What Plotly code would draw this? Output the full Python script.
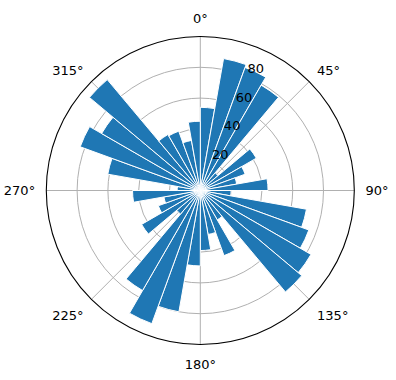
import plotly.graph_objects as go

# bin start angles (degrees, clockwise from north) and counts
bin_starts = list(range(0, 360, 10))
counts = [54, 87, 85, 79, 15, 42, 31, 24, 44,
          20, 70, 75, 83, 86, 22, 45, 29, 39,
          49, 80, 92, 75, 20, 44, 29, 24, 44,
          15, 61, 83, 74, 94, 42, 41, 33, 45]
bin_width = 10
angle_ticks = [0, 45, 90, 135, 180, 225, 270, 315]
angle_labels = [f"{a}°" for a in angle_ticks]
r_ticks = [20, 40, 60, 80]
r_label_angle = 22.5

centers = [s + bin_width / 2 for s in bin_starts]

fig = go.Figure()
fig.add_trace(go.Barpolar(
    r=counts, theta=centers, width=[bin_width] * len(counts),
    marker=dict(color="#1f77b4", line=dict(color="white", width=1)),
    opacity=1, hoverinfo="r+theta",
))
# radial tick labels, placed like matplotlib's (at 22.5 deg)
fig.add_trace(go.Scatterpolar(
    r=r_ticks, theta=[r_label_angle] * len(r_ticks),
    text=[str(v) for v in r_ticks], mode="text",
    textposition="top right",
    textfont=dict(family="DejaVu Sans", size=13, color="black"),
    hoverinfo="skip",
))

W, H = 396, 380
cx, cy, R = 200.3, 190.5, 154
fig.update_layout(
    width=W, height=H, margin=dict(l=0, r=0, t=0, b=0),
    paper_bgcolor="white", showlegend=False,
    font=dict(family="DejaVu Sans", size=13, color="black"),
    polar=dict(
        domain=dict(x=[(cx - R) / W, (cx + R) / W], y=[1 - (cy + R) / H, 1 - (cy - R) / H]),
        bgcolor="white",
        bargap=0,
        angularaxis=dict(direction="clockwise", rotation=90,
                         tickmode="array", tickvals=angle_ticks, ticktext=angle_labels,
                         showline=True, linecolor="black", linewidth=1.1,
                         gridcolor="#b0b0b0", gridwidth=1,
                         ticks="outside", ticklen=8, tickcolor="rgba(0,0,0,0)",
                         layer="above traces"),
        radialaxis=dict(range=[0, 100], tickmode="array", tickvals=r_ticks,
                        showticklabels=False,
                        angle=67.5, showline=False, ticks="",
                        gridcolor="#b0b0b0", gridwidth=1,
                        layer="above traces"),
    ),
)
fig.write_html("out.html")
